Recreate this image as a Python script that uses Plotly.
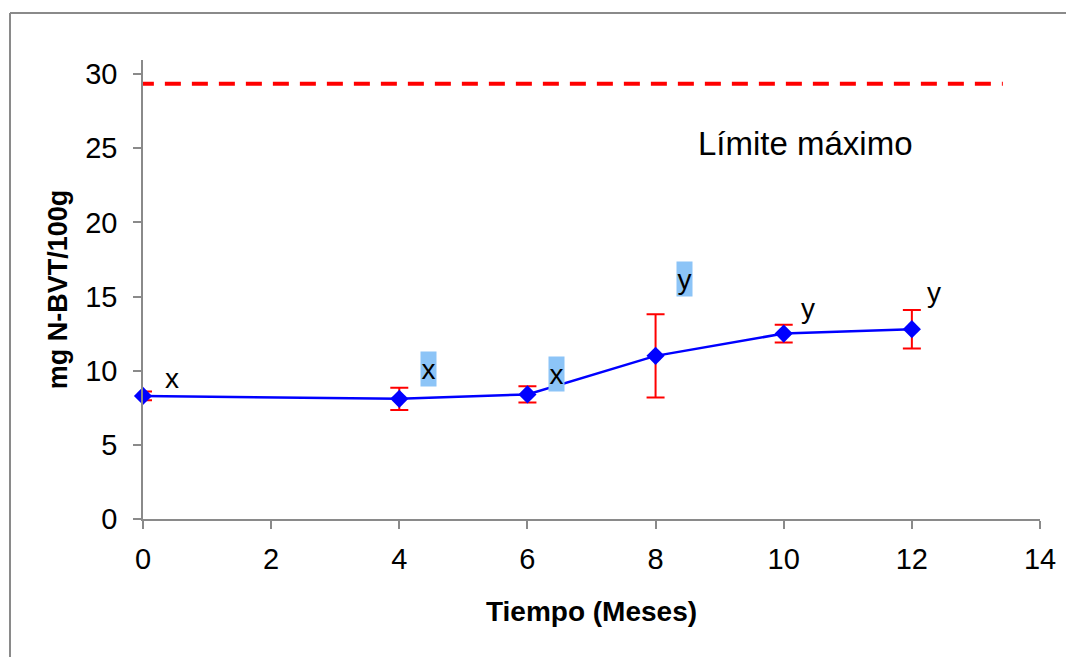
import plotly.graph_objects as go

# Data
months = [0, 4, 6, 8, 10, 12]
nbvt = [8.3, 8.1, 8.4, 11.0, 12.5, 12.8]
nbvt_err = [0.3, 0.75, 0.55, 2.8, 0.6, 1.3]

limit_x = [-0.08, 13.42]
limit_y = [29.35, 29.35]

letter_x = [0.45, 4.45, 6.45, 8.45, 10.38, 12.35]
letter_y = [9.5, 10.1, 9.8, 16.2, 14.2, 15.3]
letter_txt = ["x", "x", "x", "y", "y", "y"]
letter_hl = [False, True, True, True, False, False]

FONT = "Liberation Sans, Arial, sans-serif"

fig = go.Figure()
fig.add_trace(go.Scatter(
    x=limit_x, y=limit_y, mode="lines",
    line=dict(color="#FF0000", width=4, dash="16px,11px"),
    cliponaxis=False, showlegend=False, hoverinfo="skip"))
fig.add_trace(go.Scatter(
    x=months, y=nbvt, mode="lines+markers",
    line=dict(color="#0000FF", width=2.5),
    marker=dict(symbol="diamond", size=14, color="#0000FF"),
    error_y=dict(type="data", array=nbvt_err, color="#FF0000", thickness=2, width=9),
    cliponaxis=False, showlegend=False))

for lx, ly, t, hl in zip(letter_x, letter_y, letter_txt, letter_hl):
    fig.add_annotation(
        x=lx, y=ly, text=t, showarrow=False,
        font=dict(family=FONT, size=28, color="#000000"),
        bgcolor="#8CC4F7" if hl else "rgba(0,0,0,0)",
        width=15 if hl else None, height=34 if hl else None,
        borderpad=0)

fig.add_annotation(
    x=10.34, y=25.35, text="Límite máximo", showarrow=False,
    font=dict(family=FONT, size=33, color="#000000"))

# outer border
fig.add_shape(type="line", xref="paper", yref="paper",
              x0=(10 - 143) / 897, x1=1.2, y0=(519 - 13) / 459, y1=(519 - 13) / 459,
              line=dict(color="#8A8A8A", width=2))
fig.add_shape(type="line", xref="paper", yref="paper",
              x0=(10 - 143) / 897, x1=(10 - 143) / 897, y0=(519 - 13) / 459, y1=-0.5,
              line=dict(color="#8A8A8A", width=2))

fig.update_layout(
    width=1066, height=657,
    margin=dict(l=143, r=26, t=60, b=138),
    paper_bgcolor="white", plot_bgcolor="white",
    font=dict(family=FONT, color="#000000"),
    xaxis=dict(range=[0, 14], tickvals=[0, 2, 4, 6, 8, 10, 12, 14], automargin=False,
               showgrid=False, zeroline=False, showline=True, linecolor="#8A8A8A", linewidth=1.5,
               ticks="outside", ticklen=8, tickcolor="#8A8A8A", tickwidth=1.5,
               tickfont=dict(size=29, family=FONT), ticklabelstandoff=5,
               title=dict(text="<b>Tiempo (Meses)</b>", font=dict(size=28, family=FONT), standoff=28)),
    yaxis=dict(range=[0, 30.95], tickvals=[0, 5, 10, 15, 20, 25, 30], automargin=False,
               showgrid=False, zeroline=False, showline=True, linecolor="#8A8A8A", linewidth=1.5,
               ticks="outside", ticklen=8, tickcolor="#8A8A8A", tickwidth=1.5,
               tickfont=dict(size=29, family=FONT), ticklabelstandoff=10,
               title=dict(text="<b>mg N-BVT/100g</b>", font=dict(size=27, family=FONT), standoff=10)),
)

fig.write_html("out.html")
